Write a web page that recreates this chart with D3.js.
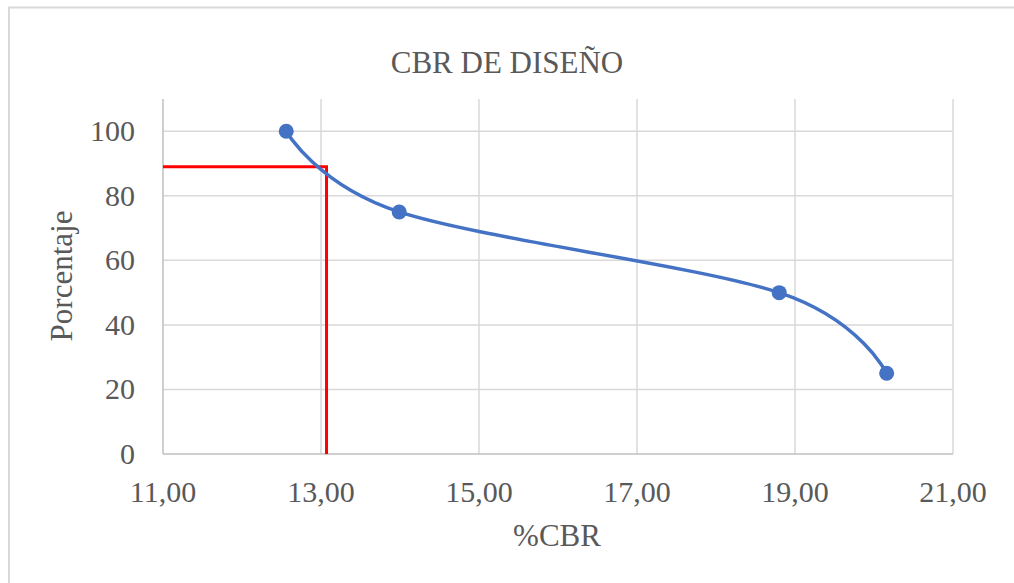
<!DOCTYPE html>
<html>
<head>
<meta charset="UTF-8">
<title>CBR de diseño</title>
<script src="https://d3js.org/d3.v7.min.js"></script>
<style>
  body { margin: 0; background: #fff; }
</style>
</head>
<body>
<div id="chart"></div>
<script>
// datos
const cbr = [12.56, 13.99, 18.80, 20.16];
const porcentaje = [100, 75, 50, 25];
const xTicks = [11, 13, 15, 17, 19, 21];
const yTicks = [0, 20, 40, 60, 80, 100];
// CBR de diseño (lineas rojas)
const cbrDiseno = [13.07];
const pctDiseno = [89];

const W = 1014, H = 583;
const svg = d3.select('#chart').append('svg').attr('width', W).attr('height', H)
  .style('font-family', "'Liberation Serif', 'Times New Roman', Times, serif");

// marco del gráfico
svg.append('path').attr('d', `M9,${H} V7.5 H${W}`)
  .attr('fill', 'none').attr('stroke', '#d9d9d9').attr('stroke-width', 2);

const x = d3.scaleLinear().domain([11, 21]).range([163, 953]);
const y = d3.scaleLinear().domain([0, 110]).range([454, 99]);

const fmt = d => d.toFixed(2).replace('.', ',');

// rejilla
svg.append('g').selectAll('line').data(yTicks.slice(1)).join('line')
  .attr('x1', x(11)).attr('x2', x(21))
  .attr('y1', d => y(d)).attr('y2', d => y(d))
  .attr('stroke', '#d9d9d9').attr('stroke-width', 1.5);
svg.append('g').selectAll('line').data(xTicks.slice(1)).join('line')
  .attr('x1', d => x(d)).attr('x2', d => x(d))
  .attr('y1', y(0)).attr('y2', y(110))
  .attr('stroke', '#d9d9d9').attr('stroke-width', 1.5);

// ejes
svg.append('line').attr('x1', x(11)).attr('x2', x(11)).attr('y1', y(0)).attr('y2', y(110))
  .attr('stroke', '#bfbfbf').attr('stroke-width', 1.5);
svg.append('line').attr('x1', x(11)).attr('x2', x(21)).attr('y1', y(0)).attr('y2', y(0))
  .attr('stroke', '#bfbfbf').attr('stroke-width', 1.5);

// etiquetas de los ejes
svg.append('g').selectAll('text').data(xTicks).join('text')
  .attr('x', d => x(d)).attr('y', 502)
  .attr('text-anchor', 'middle').attr('font-size', '30px').attr('fill', '#595959')
  .text(fmt);
svg.append('g').selectAll('text').data(yTicks).join('text')
  .attr('x', 135).attr('y', d => y(d) + 10)
  .attr('text-anchor', 'end').attr('font-size', '30px').attr('fill', '#595959')
  .text(d => d);

// título y nombres de ejes
svg.append('text').attr('x', 507).attr('y', 73).attr('text-anchor', 'middle')
  .attr('font-size', '31px').attr('fill', '#595959').text('CBR DE DISEÑO');
svg.append('text').attr('x', 557).attr('y', 546).attr('text-anchor', 'middle')
  .attr('font-size', '31px').attr('fill', '#595959').text('%CBR');
svg.append('text').attr('transform', 'translate(72,276) rotate(-90)').attr('text-anchor', 'middle')
  .attr('font-size', '31px').attr('fill', '#595959').text('Porcentaje');

// lineas rojas del CBR de diseño
const cx = x(cbrDiseno[0]), cy = y(pctDiseno[0]);
svg.append('path').attr('d', `M${x(11)},${cy} H${cx} V${y(0)}`)
  .attr('fill', 'none').attr('stroke', '#ff0000').attr('stroke-width', 3);

// serie (suavizada)
const pts = cbr.map((d, i) => [d, porcentaje[i]]);
const line = d3.line().x(d => x(d[0])).y(d => y(d[1])).curve(d3.curveCardinal.tension(0));
svg.append('path').attr('d', line(pts))
  .attr('fill', 'none').attr('stroke', '#4472c4').attr('stroke-width', 3.5);
svg.append('g').selectAll('circle').data(pts).join('circle')
  .attr('cx', d => x(d[0])).attr('cy', d => y(d[1])).attr('r', 7.5)
  .attr('fill', '#4472c4');
</script>
</body>
</html>
